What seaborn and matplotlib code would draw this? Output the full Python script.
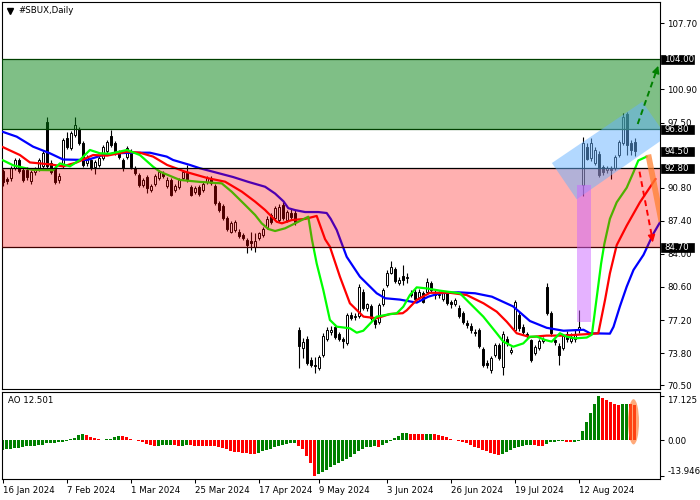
import numpy as np
import matplotlib
matplotlib.use("Agg")
import matplotlib.pyplot as plt
import matplotlib.transforms as mtransforms
from matplotlib.patches import Rectangle, Polygon, Ellipse
import seaborn as sns

# ---------------- data ----------------
title = "#SBUX,Daily"
ao_label = "AO 12.501"

opens = [92.5, 91.7, 91.8, 92.8, 93.6, 92.6, 92.6, 91.5, 92.4, 92.7,
         93.0, 97.6, 93.3, 92.8, 91.6, 93.0, 95.9, 94.9, 96.2, 96.8,
         95.4, 93.3, 93.6, 92.9, 93.1, 93.9, 94.6, 96.1, 95.4, 94.4,
         93.6, 94.0, 94.6, 92.8, 92.1, 91.1, 91.9, 90.6, 91.2, 91.8,
         92.3, 91.0, 91.6, 90.6, 90.9, 91.8, 92.3, 90.9, 90.4, 90.9,
         90.6, 91.4, 91.8, 91.0, 89.2, 88.9, 87.7, 86.3, 86.5, 86.3,
         85.9, 85.4, 85.3, 84.7, 85.6, 85.9, 86.8, 88.0, 87.7, 87.5,
         89.0, 87.5, 88.2, 88.2, 76.2, 74.3, 75.3, 73.1, 72.6, 72.3,
         73.6, 75.2, 76.0, 76.5, 75.8, 75.2, 74.8, 77.7, 77.5, 77.6,
         80.1, 78.4, 78.6, 77.2, 77.0, 78.8, 80.8, 82.0, 82.4, 81.0,
         81.7, 81.5, 80.0, 80.1, 79.6, 80.0, 80.1, 81.0, 79.9, 79.8,
         79.4, 80.0, 79.1, 78.8, 78.4, 77.9, 76.9, 76.6, 76.0, 76.2,
         74.2, 72.8, 72.1, 73.6, 74.6, 72.4, 75.3, 73.9, 76.2, 77.7,
         76.5, 75.8, 75.1, 73.8, 74.3, 75.0, 80.6, 77.9, 75.1, 74.5,
         74.3, 75.8, 75.0, 75.2, 76.2, 91.1, 95.0, 93.9, 93.3, 94.3,
         92.9, 92.6, 92.7, 92.8, 94.2, 95.4, 98.4, 95.4, 95.5]
highs = [92.7, 91.9, 93.0, 93.9, 93.9, 92.8, 92.9, 92.6, 92.9, 93.9,
         94.7, 98.1, 93.6, 93.0, 92.3, 95.9, 96.5, 96.6, 98.1, 97.0,
         95.6, 94.2, 93.8, 93.6, 94.1, 95.2, 95.7, 96.7, 95.6, 94.7,
         93.9, 95.1, 94.8, 93.0, 92.3, 91.8, 92.1, 91.2, 92.2, 92.6,
         92.5, 91.9, 91.8, 91.2, 91.8, 92.6, 93.1, 91.1, 91.0, 91.1,
         91.4, 92.0, 92.0, 91.2, 89.4, 89.1, 87.9, 87.4, 87.5, 86.6,
         86.1, 85.6, 86.3, 86.1, 86.3, 86.8, 87.9, 88.2, 88.9, 89.1,
         89.3, 88.5, 88.6, 88.5, 76.5, 75.4, 75.6, 73.4, 73.4, 73.6,
         75.9, 76.5, 76.6, 76.8, 76.0, 75.5, 77.9, 78.0, 77.9, 80.9,
         80.4, 79.0, 78.8, 77.4, 78.9, 80.5, 82.3, 83.3, 82.6, 81.6,
         82.9, 82.0, 80.3, 80.4, 80.4, 80.2, 81.5, 81.2, 80.4, 80.2,
         80.3, 80.2, 79.3, 79.5, 78.7, 78.1, 77.2, 76.9, 76.3, 76.4,
         74.4, 73.1, 73.5, 74.8, 74.8, 76.1, 75.6, 74.4, 79.3, 78.0,
         76.8, 76.0, 75.3, 74.6, 75.2, 75.5, 81.0, 78.1, 75.3, 74.8,
         75.8, 76.1, 75.9, 76.2, 78.2, 96.0, 95.4, 95.9, 95.0, 94.6,
         93.1, 93.0, 93.0, 94.2, 95.7, 98.5, 98.6, 95.7, 95.9]
lows = [91.0, 91.2, 91.5, 92.6, 92.3, 91.4, 91.6, 91.2, 92.1, 92.5,
        92.8, 92.8, 92.2, 91.2, 91.3, 92.8, 94.8, 94.7, 96.0, 95.2,
        92.9, 93.0, 92.6, 92.2, 92.9, 93.7, 94.4, 95.0, 94.2, 93.8,
        92.5, 93.8, 92.7, 92.1, 90.9, 90.9, 90.3, 90.4, 91.0, 91.6,
        91.8, 90.8, 89.9, 90.4, 90.7, 91.6, 91.4, 89.9, 90.2, 90.0,
        90.4, 91.2, 91.1, 89.0, 88.3, 87.5, 86.4, 86.1, 86.3, 85.6,
        85.4, 84.1, 84.4, 84.2, 85.4, 85.7, 86.6, 87.1, 87.5, 87.3,
        87.5, 87.3, 87.5, 87.0, 72.3, 73.3, 72.6, 72.4, 71.8, 72.1,
        73.4, 75.0, 75.7, 75.3, 75.0, 74.3, 74.6, 77.2, 77.2, 77.4,
        78.2, 78.1, 77.2, 76.4, 76.8, 78.6, 80.6, 81.9, 81.0, 80.8,
        80.8, 81.0, 79.6, 79.2, 79.4, 78.9, 79.9, 80.1, 79.4, 79.5,
        79.2, 78.7, 78.4, 78.6, 77.4, 76.8, 76.4, 75.9, 75.6, 74.3,
        72.4, 72.3, 71.8, 73.4, 73.1, 71.6, 74.5, 73.7, 76.0, 76.1,
        75.7, 75.4, 72.9, 73.6, 74.1, 74.8, 77.7, 75.6, 74.6, 72.6,
        74.1, 74.9, 74.8, 74.9, 75.9, 89.9, 93.6, 93.5, 93.1, 91.9,
        92.1, 92.3, 91.7, 92.6, 94.0, 95.2, 94.2, 94.2, 94.1]
closes = [91.4, 91.5, 92.8, 93.6, 92.5, 91.6, 91.9, 92.4, 92.7, 93.7,
          94.4, 93.0, 92.4, 91.4, 92.0, 95.7, 95.0, 96.4, 97.2, 95.4,
          93.1, 94.0, 92.8, 93.4, 93.9, 95.0, 95.5, 95.2, 94.4, 94.0,
          92.8, 94.9, 92.9, 92.3, 91.1, 91.6, 90.8, 91.0, 92.0, 92.4,
          92.0, 91.6, 90.1, 91.0, 91.6, 92.4, 91.6, 90.1, 90.8, 90.2,
          91.2, 91.8, 91.3, 89.2, 88.5, 87.7, 86.6, 87.2, 87.3, 85.8,
          85.6, 84.9, 85.1, 85.3, 86.1, 86.6, 87.6, 87.3, 88.7, 88.8,
          87.7, 88.3, 87.8, 87.3, 74.5, 74.9, 72.8, 72.6, 72.5, 73.4,
          75.6, 76.2, 76.2, 75.5, 75.3, 75.0, 77.7, 77.4, 77.6, 80.6,
          78.4, 78.8, 77.4, 76.8, 78.7, 80.3, 82.0, 82.7, 81.2, 81.3,
          81.3, 81.6, 79.8, 79.4, 80.1, 79.1, 81.1, 80.3, 79.8, 79.9,
          80.1, 78.9, 78.8, 79.3, 77.6, 77.0, 76.7, 76.2, 75.9, 74.5,
          72.6, 72.6, 73.3, 74.6, 73.3, 75.8, 74.8, 74.1, 79.1, 76.4,
          76.0, 75.7, 73.1, 74.4, 75.0, 75.2, 77.9, 75.9, 74.9, 73.6,
          75.6, 75.2, 75.4, 75.7, 76.5, 95.4, 93.8, 95.4, 94.7, 92.1,
          92.4, 92.8, 92.6, 94.0, 95.5, 98.1, 95.2, 94.7, 94.6]

# Alligator lines (bar position, value)
jaw_x = [-0.1, 3.5, 7.6, 11.8, 15.1, 21.1, 25.1, 28.5, 32.7, 36.8, 41.0, 42.6, 46.8,
         49.3, 57.6, 61.4, 65.6, 68.1, 70.2, 71.4, 73.1, 75.6, 78.9, 81.0, 82.0, 83.5,
         86.0, 89.3, 93.5, 95.6, 99.3, 103.5, 106.4, 109.3, 113.9, 118.1, 122.3, 127.6,
         131.8, 136.0, 140.2, 145.2, 146.8, 151.8, 152.7, 154.3, 156.0, 157.7, 160.2,
         162.7, 164.4]
jaw_y = [96.56, 96.05, 95.02, 94.34, 93.70, 93.65, 94.16, 94.34, 94.40, 94.40, 94.00,
         93.65, 93.14, 92.80, 91.90, 91.40, 90.90, 90.20, 89.40, 88.70, 88.50, 88.30,
         88.30, 88.20, 87.60, 86.46, 83.70, 81.66, 79.95, 79.44, 79.30, 78.99, 79.60,
         79.95, 80.05, 79.95, 79.60, 78.60, 77.10, 76.40, 76.10, 76.20, 75.84, 75.80,
         76.50, 78.60, 80.63, 82.35, 83.90, 86.10, 87.30]
teeth_x = [-0.1, 4.3, 6.8, 11.8, 15.1, 18.5, 22.6, 26.1, 31.1, 34.3, 37.6, 41.1, 45.6,
           51.4, 55.6, 59.8, 63.1, 65.6, 68.5, 69.8, 72.3, 75.6, 78.5, 80.6, 81.8, 84.3,
           86.8, 90.2, 93.5, 96.8, 100.0, 101.0, 103.5, 106.8, 111.8, 116.0, 120.2,
           123.5, 126.0, 128.5, 131.8, 136.0, 140.2, 146.8, 148.9, 150.6, 151.8, 153.5,
           156.0, 159.3, 163.2]
teeth_y = [95.00, 94.16, 93.40, 93.20, 93.00, 93.40, 94.16, 94.10, 94.50, 94.40, 94.00,
           93.14, 92.45, 91.77, 91.42, 90.39, 89.37, 88.51, 87.30, 87.14, 87.48, 87.59,
           87.90, 85.50, 84.74, 81.66, 78.92, 77.55, 77.38, 77.82, 77.90, 78.20, 79.26,
           80.00, 80.00, 79.77, 78.92, 78.06, 77.03, 75.84, 75.45, 75.60, 75.60, 75.77,
           75.84, 79.30, 82.00, 84.90, 86.90, 89.30, 91.70]
lips_x = [-0.1, 2.65, 7.6, 12.6, 14.3, 16.8, 19.3, 21.8, 24.3, 26.8, 31.1, 34.3, 37.6,
          39.3, 44.3, 49.3, 54.75, 57.25, 60.6, 63.1, 64.75, 66.4, 68.1, 70.6, 73.9,
          76.4, 77.3, 78.5, 80.15, 81.8, 83.5, 86.8, 88.5, 90.15, 93.5, 96.8, 98.5,
          100.15, 101.8, 103.5, 106.0, 109.3, 114.3, 116.8, 120.15, 123.5, 125.15,
          127.65, 130.15, 131.8, 133.5, 135.6, 137.25, 139.3, 141.0, 143.1, 146.0,
          147.3, 148.5, 149.6, 150.4, 151.8, 153.5, 156.0, 157.7, 158.9, 161.0]
lips_y = [93.65, 93.10, 92.63, 92.60, 93.30, 93.00, 93.65, 94.68, 94.34, 94.30, 94.68,
          94.16, 92.96, 92.45, 91.60, 91.40, 91.25, 90.39, 89.03, 88.00, 87.14, 86.56,
          86.35, 86.63, 87.30, 87.82, 85.50, 83.00, 80.29, 77.21, 76.52, 76.35, 75.90,
          76.10, 77.55, 77.80, 77.89, 78.57, 79.77, 80.56, 80.45, 80.22, 79.95, 78.92,
          77.55, 75.84, 74.98, 74.46, 74.80, 75.49, 75.50, 75.15, 74.98, 75.84, 75.49,
          75.32, 75.40, 75.70, 79.50, 83.00, 85.00, 87.60, 89.30, 90.80, 92.40, 93.60,
          94.00]

# Awesome Oscillator values per bar
ao = [-3.70, -3.62, -3.50, -3.24, -2.98, -2.72, -2.46, -2.25, -2.15, -2.07,
      -1.94, -1.29, -1.17, -1.04, -0.91, -0.78, -0.52, 0.26, 0.91, 1.81,
      2.33, 1.94, 1.29, 0.65, 0.26, 0.13, 0.26, 0.52, 1.03, 1.68,
      1.42, 1.03, 0.52, 0.05, -0.52, -0.91, -1.42, -1.81, -2.20, -2.15,
      -2.07, -2.00, -1.94, -2.07, -2.20, -2.10, -2.00, -2.07, -2.12, -2.15,
      -2.20, -2.25, -2.30, -2.40, -2.72, -3.10, -3.60, -4.10, -4.50, -4.80,
      -5.05, -5.20, -5.30, -5.35, -4.90, -4.40, -3.90, -3.35, -2.85, -2.33,
      -1.81, -1.42, -1.16, -1.00, -2.20, -3.60, -6.20, -8.80, -13.946, -13.30,
      -12.50, -11.50, -10.60, -9.70, -8.90, -8.30, -7.50, -6.70, -5.40, -4.10,
      -3.40, -2.85, -2.50, -2.20, -2.50, -1.94, -1.16, -0.26, 0.65, 1.68,
      2.59, 2.85, 2.40, 2.35, 2.30, 2.20, 2.33, 2.46, 2.33, 2.07,
      1.68, 1.16, 0.52, 0.05, -0.52, -0.91, -1.29, -1.94, -2.59, -3.24,
      -3.88, -4.40, -4.90, -5.30, -5.60, -5.45, -4.50, -3.88, -3.24, -2.59,
      -2.20, -1.94, -1.81, -1.94, -2.20, -2.33, -1.42, -0.91, -0.65, -0.52,
      -0.45, -0.78, -0.91, -0.78, -0.52, 3.60, 7.00, 10.60, 14.00, 17.125,
      16.30, 15.50, 14.80, 14.20, 13.80, 13.90, 14.00, 13.90, 13.70]

date_pos = [0, 16, 32, 48, 64, 79, 96, 112, 128, 144]
date_labels = ["16 Jan 2024", "7 Feb 2024", "1 Mar 2024", "25 Mar 2024", "17 Apr 2024",
               "9 May 2024", "3 Jun 2024", "26 Jun 2024", "19 Jul 2024", "12 Aug 2024"]
price_ticks = [107.70, 100.90, 97.50, 90.80, 87.40, 84.00, 80.60, 77.20, 73.80, 70.50]
boxed_levels = [104.00, 96.80, 94.50, 92.80, 84.70]
ao_ticks = [17.125, 0.0, -13.946]
ao_tick_labels = ["17.125", "0.00", "-13.946"]

green_zone = (96.8, 104.0)
red_zone = (84.7, 92.8)

# ---------------- drawing ----------------
sns.set_theme(style="white")
plt.rcParams["font.family"] = ["DejaVu Sans"]
FS = 6.2

fig = plt.figure(figsize=(7, 5), dpi=100)
fig.patch.set_facecolor("white")
ax = fig.add_axes([2.3 / 700, 1 - 389.3 / 500, 658 / 700, 387 / 500])
ax2 = fig.add_axes([2.3 / 700, 1 - 479 / 500, 658 / 700, 87.3 / 500])

idx = np.arange(len(opens))
o = np.array(opens); h = np.array(highs); l = np.array(lows); c = np.array(closes)

# candles
ax.vlines(idx, l, h, color="black", lw=0.8, zorder=2)
bull = c >= o
body_b = np.maximum(np.abs(c - o), 0.06)
ax.bar(idx[bull], body_b[bull], bottom=o[bull], width=0.6, facecolor="white",
       edgecolor="black", lw=0.7, zorder=2.5)
ax.bar(idx[~bull], body_b[~bull], bottom=c[~bull], width=0.6, facecolor="black",
       edgecolor="black", lw=0.7, zorder=2.5)

# alligator
sns.lineplot(x=jaw_x, y=jaw_y, ax=ax, color="#0000ff", lw=1.6, sort=False,
             estimator=None, zorder=3)
sns.lineplot(x=teeth_x, y=teeth_y, ax=ax, color="#ff0000", lw=1.6, sort=False,
             estimator=None, zorder=3)
sns.lineplot(x=lips_x, y=lips_y, ax=ax, color="#00ff00", lw=1.6, sort=False,
             estimator=None, zorder=3)

# zones
ax.axhspan(*green_zone, facecolor=(0, 0.5, 0.06), alpha=0.5, lw=0, zorder=4)
ax.axhspan(*red_zone, facecolor=(1, 0, 0), alpha=0.31, lw=0, zorder=4)
ax.axhline(green_zone[1], color="#004000", lw=0.9, zorder=5)
ax.axhline(green_zone[0], color="#004000", lw=0.9, zorder=5)
ax.axhline(red_zone[1], color="black", lw=0.9, zorder=5)
ax.axhline(red_zone[0], color="#400000", lw=0.9, zorder=5)

# channel, gap bar, orange band, arrows
ax.add_patch(Polygon([(137.3, 93.34), (159.9, 99.64), (166.0, 96.05), (143.5, 89.61)],
                     closed=True, facecolor="#66b2ff", alpha=0.5, lw=0, zorder=6))
ax.add_patch(Rectangle((143.6, 77.0), 3.4, 14.08, facecolor="#cc66ff", alpha=0.5,
                       lw=0, zorder=6))
ax.plot([161.4, 164.7], [94.2, 87.3], color="#ff8030", alpha=0.75, lw=4.2,
        solid_capstyle="butt", zorder=7)

ax.plot([158.75, 163.5], [97.35, 102.9], color="#008000", lw=1.4, ls=(0, (3, 2)), zorder=8)
ax.annotate("", xy=(164.1, 103.6), xytext=(163.2, 102.5),
            arrowprops=dict(arrowstyle="-|>", color="#008000", lw=1.0, mutation_scale=11),
            zorder=8)
ax.plot([159.2, 162.3], [92.45, 85.8], color="#ff0000", lw=1.4, ls=(0, (3, 2)), zorder=8)
ax.annotate("", xy=(162.65, 84.9), xytext=(162.1, 86.2),
            arrowprops=dict(arrowstyle="-|>", color="#ff0000", lw=1.0, mutation_scale=11),
            zorder=8)

ax.set_xlim(-0.1, 164.4)
ax.set_ylim(70.08, 109.86)
ax.set_xticks([])
ax.yaxis.tick_right()
ax.set_yticks(price_ticks)
ax.set_yticklabels([f"{v:.2f}" for v in price_ticks])
ax.tick_params(axis="y", right=True, left=False, labelright=True, labelleft=False,
               length=3, width=0.75, pad=2, labelsize=FS, colors="black", direction="out")
ax.set_xlabel(""); ax.set_ylabel("")

trans = mtransforms.blended_transform_factory(ax.transAxes, ax.transData)
for v in boxed_levels:
    ax.add_patch(Rectangle((1.0018, v - 0.46), 0.0494, 0.92, transform=trans,
                           facecolor="black", edgecolor="black", lw=0.5,
                           clip_on=False, zorder=10))
    ax.text(1.0058, v, f"{v:.2f}", transform=trans, color="white", fontsize=FS,
            va="center", ha="left", clip_on=False, zorder=11)

ax.plot([0.0112], [0.978], marker="v", ms=4.2, color="black", transform=ax.transAxes,
        clip_on=False, zorder=12)
ax.text(0.0243, 0.978, title, transform=ax.transAxes, fontsize=FS, va="center",
        ha="left", color="black", zorder=12)

# AO panel
ao_arr = np.array(ao)
ao_cols = ["#008000"] + ["#008000" if ao_arr[i] > ao_arr[i - 1] else "#ff0000"
                         for i in range(1, len(ao_arr))]
ax2.bar(idx, ao_arr, width=0.75, color=ao_cols, lw=0, zorder=2)
ax2.add_patch(Ellipse((157.7, 7.1), 2.75, 17.6, facecolor="#ff7020", alpha=0.6,
                      lw=0, zorder=3))
ax2.set_xlim(-0.1, 164.4)
ax2.set_ylim(-15.11, 18.8)
ax2.yaxis.tick_right()
ax2.set_yticks(ao_ticks)
ax2.set_yticklabels(ao_tick_labels)
ylabs = ax2.get_yticklabels()
ylabs[0].set_va("top")
ylabs[2].set_va("bottom")
ax2.tick_params(axis="y", right=True, left=False, labelright=True, labelleft=False,
                length=3, width=0.75, pad=2, labelsize=FS, colors="black", direction="out")
ax2.set_xticks(date_pos)
ax2.set_xticklabels(date_labels, ha="left")
ax2.tick_params(axis="x", bottom=True, length=3, width=0.75, pad=2, labelsize=FS,
                colors="black", direction="out")
ax2.text(0.0091, 0.899, ao_label, transform=ax2.transAxes, fontsize=FS, va="center",
         ha="left", color="black")

for a in (ax, ax2):
    for s in a.spines.values():
        s.set_color("black")
        s.set_linewidth(0.8)
        s.set_visible(True)
    a.set_facecolor("white")

fig.savefig("out.png", dpi=100)
